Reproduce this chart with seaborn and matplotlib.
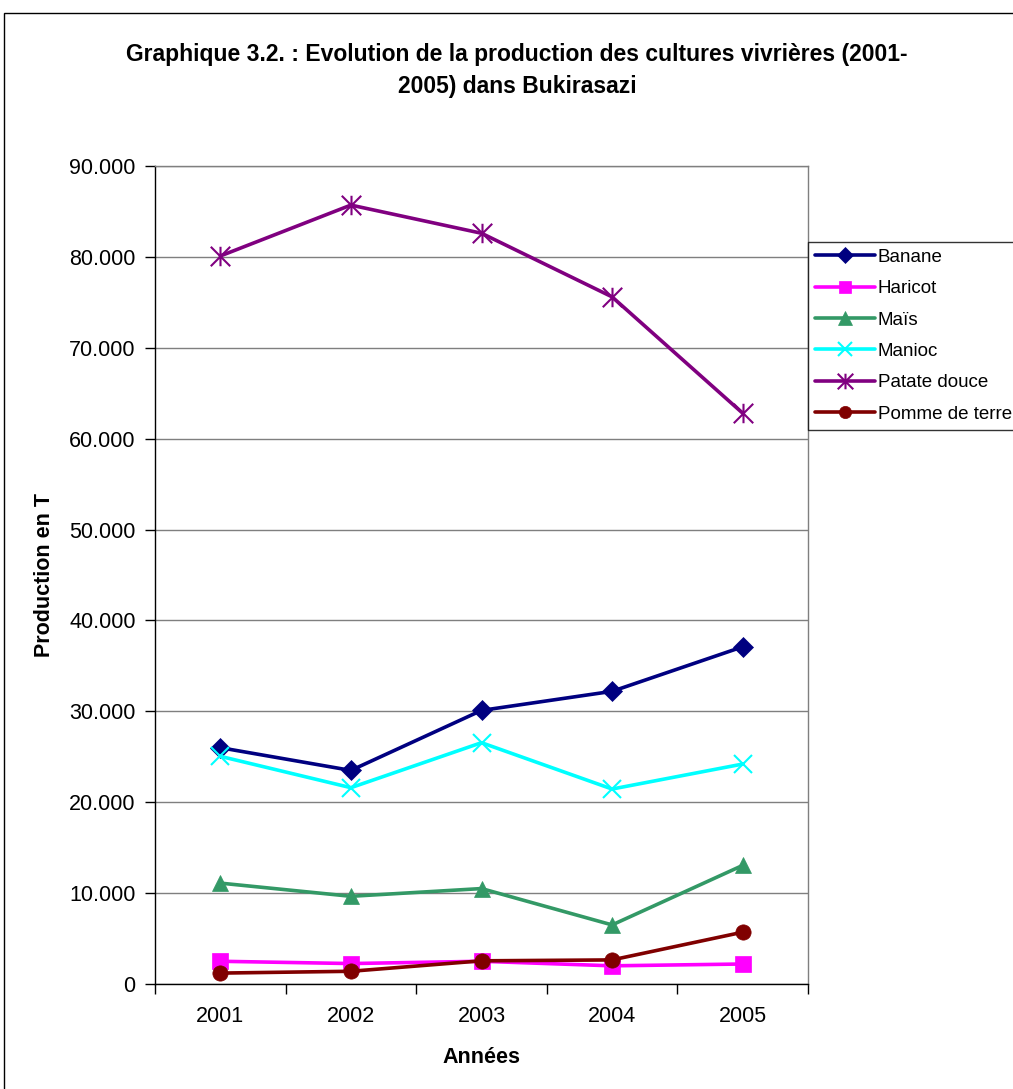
import matplotlib
matplotlib.use("Agg")
import matplotlib.pyplot as plt
from matplotlib.path import Path
from matplotlib.patches import Rectangle
from matplotlib.ticker import FixedLocator, FuncFormatter, NullFormatter
import numpy as np
import pandas as pd
import seaborn as sns

# Production (tonnes) per crop, 2001-2005
years = ["2001", "2002", "2003", "2004", "2005"]
banane = [26000, 23500, 30100, 32200, 37100]
haricot = [2500, 2250, 2500, 2000, 2200]
mais = [11100, 9650, 10500, 6500, 13050]
manioc = [25050, 21600, 26550, 21450, 24200]
patate_douce = [80100, 85700, 82600, 75600, 62800]
pomme_de_terre = [1200, 1400, 2550, 2650, 5700]

crops = ["Banane", "Haricot", "Maïs", "Manioc", "Patate douce", "Pomme de terre"]
series = [banane, haricot, mais, manioc, patate_douce, pomme_de_terre]

df = pd.DataFrame({
    "pos": np.tile(np.arange(len(years)), len(crops)),
    "Culture": np.repeat(crops, len(years)),
    "Production": np.concatenate(series),
})

# Star marker: an X crossed by a vertical bar
star = Path(
    [(-1, -1), (1, 1), (-1, 1), (1, -1), (0, -1), (0, 1)],
    [Path.MOVETO, Path.LINETO, Path.MOVETO, Path.LINETO, Path.MOVETO, Path.LINETO],
)

palette = {
    "Banane": "#000080",
    "Haricot": "#FF00FF",
    "Maïs": "#339966",
    "Manioc": "#00FFFF",
    "Patate douce": "#800080",
    "Pomme de terre": "#800000",
}
markers = {
    "Banane": "D",
    "Haricot": "s",
    "Maïs": "^",
    "Manioc": "x",
    "Patate douce": star,
    "Pomme de terre": "o",
}
sizes = {"Banane": 10, "Haricot": 11, "Maïs": 12, "Manioc": 13,
         "Patate douce": 14, "Pomme de terre": 11}

sns.set_theme(style="white")
plt.rcParams["font.family"] = ["Liberation Sans", "DejaVu Sans"]
plt.rcParams["text.color"] = "black"
plt.rcParams["axes.labelcolor"] = "black"
plt.rcParams["xtick.color"] = "black"
plt.rcParams["ytick.color"] = "black"

W, H = 1013, 1089
fig = plt.figure(figsize=(W / 100, H / 100), dpi=100)
fig.patch.set_facecolor("white")

# outer chart frame
fig.patches.append(Rectangle((4 / W, -0.05), 1.2, 1 - 13 / H + 0.05,
                             transform=fig.transFigure, fill=False,
                             edgecolor="black", linewidth=1.0))

x0, x1, y0, y1 = 155, 808, 166, 984
ax = fig.add_axes([x0 / W, 1 - y1 / H, (x1 - x0) / W, (y1 - y0) / H])

handles = []
for crop in crops:
    sub = df[df["Culture"] == crop]
    lined = crop in ("Manioc", "Patate douce")
    sns.lineplot(data=sub, x="pos", y="Production", color=palette[crop],
                 marker=markers[crop], markersize=sizes[crop],
                 markerfacecolor=palette[crop], markeredgecolor=palette[crop],
                 markeredgewidth=1.5 if lined else 0.5,
                 linewidth=2.6, ax=ax, zorder=3)
    handles.append(ax.get_lines()[-1])

ax.set_xlim(-0.5, len(years) - 0.5)
ax.set_ylim(0, 90000)

# y axis
ax.yaxis.set_major_locator(FixedLocator(np.arange(0, 90001, 10000)))
ax.yaxis.set_major_formatter(FuncFormatter(lambda v, p: f"{int(v):,}".replace(",", ".")))
ax.grid(axis="y", color="#7f7f7f", linewidth=1.0)
ax.set_axisbelow(True)

# x axis: ticks between categories, labels centred
ax.xaxis.set_major_locator(FixedLocator(np.arange(-0.5, len(years), 1.0)))
ax.xaxis.set_major_formatter(NullFormatter())
ax.xaxis.set_minor_locator(FixedLocator(np.arange(len(years))))
ax.xaxis.set_minor_formatter(FuncFormatter(lambda v, p: years[int(round(v))]))

ax.tick_params(axis="y", which="major", direction="out", length=7, width=1,
               color="black", labelcolor="black", labelsize=15.5, pad=7, left=True)
ax.tick_params(axis="x", which="major", direction="out", length=7, width=1,
               color="black", bottom=True)
ax.tick_params(axis="x", which="minor", length=0, labelsize=15.5, pad=16,
               labelcolor="black")

for side in ("top", "right"):
    ax.spines[side].set_color("#7f7f7f")
    ax.spines[side].set_linewidth(1.0)
for side in ("left", "bottom"):
    ax.spines[side].set_color("black")
    ax.spines[side].set_linewidth(1.0)

ax.set_xlabel("Années", fontsize=15.5, fontweight="bold", labelpad=14, color="black")
ax.set_ylabel("Production en T", fontsize=15.5, fontweight="bold", labelpad=10, color="black")

fig.text(517 / W, 1 - 71 / H,
         "Graphique 3.2. : Evolution de la production des cultures vivrières (2001-\n2005) dans Bukirasazi",
         ha="center", va="center", fontsize=16.5, fontweight="bold",
         linespacing=1.5, color="black")

# legend built from the drawn lines
leg = fig.legend(handles, crops, loc="upper left",
                 bbox_to_anchor=(808 / W, 1 - 242 / H),
                 frameon=True, fancybox=False, edgecolor="black",
                 fontsize=13.5, handlelength=3.2, handletextpad=0.15,
                 labelspacing=0.76, borderpad=0.36, borderaxespad=0,
                 markerscale=0.8)
leg.get_frame().set_linewidth(1.0)
for t in leg.get_texts():
    t.set_color("black")

fig.savefig("out.png", dpi=100, facecolor="white")
